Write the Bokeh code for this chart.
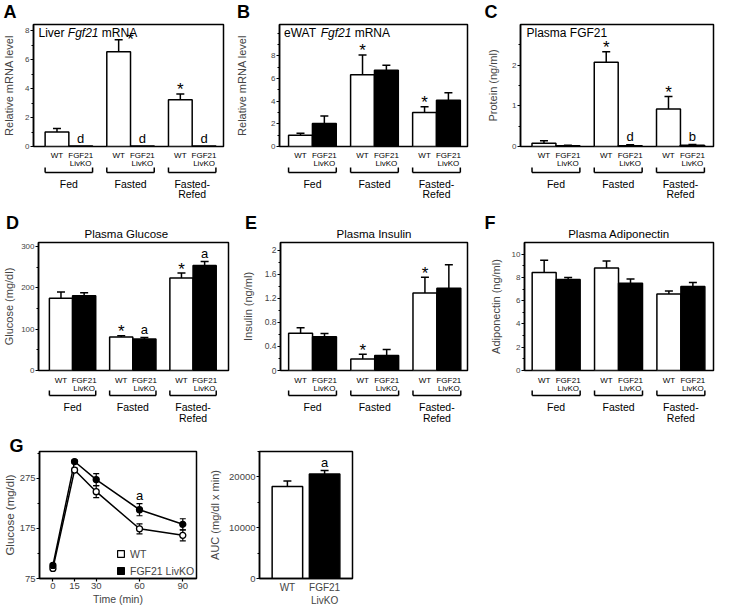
from bokeh.plotting import figure
from bokeh.layouts import row, column
from bokeh.models import Range1d, FixedTicker, Legend, LegendItem, Title
from bokeh.core.properties import value
from bokeh.embed import file_html
from bokeh.resources import INLINE

FONT = "Liberation Sans"

# ---------------- data ----------------
conditions = ["Fed", "Fasted", "Fasted-\nRefed"]
genotypes = ["WT", "FGF21\nLivKO"]

# A  Liver Fgf21 mRNA
liver_wt = [1.0, 6.55, 3.23]
liver_wt_err = [0.25, 0.82, 0.40]
liver_ko = [0.03, 0.03, 0.03]
liver_ko_err = [0.0, 0.0, 0.0]
# B  eWAT Fgf21 mRNA
ewat_wt = [1.0, 6.32, 3.0]
ewat_wt_err = [0.17, 1.75, 0.5]
ewat_ko = [2.03, 6.72, 4.08]
ewat_ko_err = [0.65, 0.45, 0.66]
# C  Plasma FGF21 (ng/ml)
fgf21_wt = [0.08, 2.07, 0.92]
fgf21_wt_err = [0.06, 0.26, 0.31]
fgf21_ko = [0.02, 0.02, 0.03]
fgf21_ko_err = [0.01, 0.02, 0.02]
# D  Plasma glucose (mg/dl)
glucose_wt = [175, 81, 224]
glucose_wt_err = [15, 3, 12]
glucose_ko = [181, 76, 254]
glucose_ko_err = [7, 4, 10]
# E  Plasma insulin (ng/ml)
insulin_wt = [0.62, 0.19, 1.29]
insulin_wt_err = [0.09, 0.08, 0.26]
insulin_ko = [0.56, 0.25, 1.37]
insulin_ko_err = [0.055, 0.10, 0.39]
# F  Plasma adiponectin (ng/ml)
adipo_wt = [8.43, 8.8, 6.58]
adipo_wt_err = [1.05, 0.6, 0.26]
adipo_ko = [7.82, 7.5, 7.22]
adipo_ko_err = [0.17, 0.36, 0.34]
# G  GTT
gtt_time = [0, 15, 30, 60, 90]
gtt_wt = [95, 291, 248, 174, 161]
gtt_wt_err = [3, 4, 12, 10, 11]
gtt_ko = [101, 308, 272, 212, 183]
gtt_ko_err = [3, 3, 12, 12, 11]
auc_vals = [18100, 20550]
auc_err = [1100, 700]

GAP = 2.6  # spacing between condition groups (bar units)


def px(s):
    return value(f"{s}px")


def txt(p, x, y, t, size, align="center", baseline="middle", style="normal",
        xo=0, yo=0):
    p.text(x=x, y=y, text=t, text_font=value(FONT), text_font_size=px(size),
           text_align=align, text_baseline=baseline, text_font_style=style,
           x_offset=xo, y_offset=yo, text_color="black")


def style_yaxis(ax, ticks, minor, label, tick_font, label_font, standoff,
                overrides=None):
    ax.ticker = FixedTicker(ticks=ticks, minor_ticks=minor)
    ax.axis_label = label
    ax.axis_label_text_font = FONT
    ax.axis_label_text_font_size = f"{label_font}px"
    ax.axis_label_text_font_style = "normal"
    ax.axis_label_standoff = standoff
    ax.major_label_text_font = FONT
    ax.major_label_text_font_size = f"{tick_font}px"
    ax.major_label_standoff = 1
    ax.major_tick_out = 3
    ax.major_tick_in = 0
    ax.minor_tick_out = 2
    ax.minor_tick_in = 0
    ax.axis_line_width = 1.5
    ax.major_tick_line_width = 1.2
    ax.minor_tick_line_width = 1.2
    if overrides:
        ax.major_label_overrides = overrides


def errbars(p, x, top, err, cap=8, width=1.5):
    xs = [a for a, e in zip(x, err) if e > 0]
    y0 = [t for t, e in zip(top, err) if e > 0]
    y1 = [t + e for t, e in zip(top, err) if e > 0]
    if not xs:
        return
    p.segment(x0=xs, y0=y0, x1=xs, y1=y1, line_color="black", line_width=width)
    p.scatter(x=xs, y=y1, marker="dash", size=cap, line_color="black",
              line_width=width)


def add_letter(p, t, xoff, standoff, valign):
    p.add_layout(Title(text=t, align="left", offset=xoff, standoff=standoff,
                       vertical_align=valign, text_font=FONT,
                       text_font_size="18px", text_font_style="bold",
                       text_color="black"), "above")


def bar_panel(c):
    W, H, L, R, T, Bm = c["W"], c["H"], c["L"], c["R"], c["T"], 5
    p = figure(width=W, height=H, x_range=Range1d(*c["xr"]),
               y_range=Range1d(*c["yr"]), x_axis_location=None,
               toolbar_location=None, output_backend="svg",
               min_border_left=L, min_border_right=R, min_border_top=T,
               min_border_bottom=Bm)
    p.outline_line_color = "black"
    p.outline_line_width = 1.5
    p.grid.grid_line_color = None
    style_yaxis(p.yaxis[0], c["ticks"], c["minor"], c["ylabel"], c["tf"], 11,
                c["so"], c.get("ov"))
    xw = [i * GAP for i in range(len(conditions))]
    xk = [x + 1 for x in xw]
    p.vbar(x=xw, top=c["wt"], bottom=0, width=1, fill_color="white",
           line_color="black", line_width=1.5)
    p.vbar(x=xk, top=c["ko"], bottom=0, width=1, fill_color="black",
           line_color="black", line_width=1.5)
    errbars(p, xw, c["wt"], c["wt_err"])
    errbars(p, xk, c["ko"], c["ko_err"])
    for series, i, t, dx, dy in c["ann"]:
        xs, vals, errs = (xw, c["wt"], c["wt_err"]) if series == "wt" else (xk, c["ko"], c["ko_err"])
        yv = vals[i] + errs[i]
        if t == "*":
            txt(p, [xs[i]], [yv], [t], 17, xo=dx, yo=-4 + dy)
        else:
            txt(p, [xs[i]], [yv], [t], 13, xo=dx, yo=-8 + dy)
    # title written inside the frame (row 1)
    x0, y1 = c["xr"][0], c["yr"][1]
    for piece, off, style in c["intitle"]:
        txt(p, [x0], [y1], [piece], 12, align="left", baseline="top",
            style=style, xo=off, yo=1)
    # title above the frame (row 2)
    if c.get("title"):
        p.add_layout(Title(text=c["title"], align=c.get("talign", "center"),
                           offset=c.get("toff", 0), standoff=5,
                           vertical_align="bottom", text_font=FONT,
                           text_font_size="11.5px", text_font_style="normal",
                           text_color="black"), "above")
    add_letter(p, c["letter"], c["lx"], c["ls"], c["lva"])

    # label strip below the bars
    Hs = c["Hs"]
    o = c["so_strip"]  # (genotype line1, line2, bracket, group line1, line2)
    s = figure(width=W, height=Hs, x_range=p.x_range, y_range=Range1d(Hs, 0),
               x_axis_location=None, y_axis_location=None,
               toolbar_location=None, output_backend="svg",
               min_border_left=L, min_border_right=R, min_border_top=0,
               min_border_bottom=0)
    s.outline_line_color = None
    s.grid.grid_line_color = None
    for k, line in enumerate(genotypes[0].split("\n")):
        txt(s, xw, [o[0] + (o[1] - o[0]) * k] * len(xw), [line] * len(xw), 8)
    for k, line in enumerate(genotypes[1].split("\n")):
        txt(s, xk, [o[0] + (o[1] - o[0]) * k] * len(xk), [line] * len(xk), 8)
    bl = [x - 0.5 for x in xw]
    br = [x + 1.5 for x in xw]
    s.segment(x0=bl, y0=[o[2]] * 3, x1=br, y1=[o[2]] * 3, line_color="black",
              line_width=1.5)
    s.segment(x0=bl + br, y0=[o[2] - 5] * 6, x1=bl + br, y1=[o[2]] * 6,
              line_color="black", line_width=1.5)
    for i, cond in enumerate(conditions):
        for k, line in enumerate(cond.split("\n")):
            txt(s, [xw[i] + 0.5], [o[3] + (o[4] - o[3]) * k], [line], 10.5)
    return column(p, s)


ROW1 = dict(H=151, T=24, Hs=57, so_strip=(4, 11.5, 21, 32, 42), lva="top", ls=0.6)
ROW2 = dict(H=167, T=34, Hs=48, so_strip=(5, 13, 20, 31, 42), lva="bottom", ls=-18)

panels = [
    dict(ROW1, letter="A", lx=-30, W=230, L=32, R=7,
         xr=(-0.99, 7.02), yr=(0, 8.43), ticks=[0, 2, 4, 6, 8],
         minor=[1, 3, 5, 7], ylabel="Relative mRNA level", tf=8, so=7,
         wt=liver_wt, wt_err=liver_wt_err, ko=liver_ko, ko_err=liver_ko_err,
         ann=[("wt", 1, "*", 12, 4), ("wt", 2, "*", 0, 0), ("ko", 0, "d", 0, 0),
              ("ko", 1, "d", 0, 0), ("ko", 2, "d", 0, 0)],
         intitle=[("Liver", 5, "normal"), ("Fgf21", 34.3, "italic"),
                  ("mRNA", 68.3, "normal")]),
    dict(ROW1, letter="B", lx=-42.6, W=240, L=49, R=3,
         xr=(-0.88, 7.0), yr=(0, 10.75), ticks=[0, 2, 4, 6, 8],
         minor=[1, 3, 5, 7, 9, 10], ylabel="Relative mRNA level", tf=8, so=20,
         wt=ewat_wt, wt_err=ewat_wt_err, ko=ewat_ko, ko_err=ewat_ko_err,
         ann=[("wt", 1, "*", 0, 0), ("wt", 2, "*", 0, 0)],
         intitle=[("eWAT", 4.5, "normal"), ("Fgf21", 41.2, "italic"),
                  ("mRNA", 75.2, "normal")]),
    dict(ROW1, letter="C", lx=-36, W=245, L=50, R=2,
         xr=(-0.98, 7.08), yr=(0, 3.0), ticks=[0, 1, 2], minor=[0.5, 1.5, 2.5],
         ylabel="Protein (ng/ml)", tf=8, so=10,
         wt=fgf21_wt, wt_err=fgf21_wt_err, ko=fgf21_ko, ko_err=fgf21_ko_err,
         ann=[("wt", 1, "*", 0, 0), ("wt", 2, "*", 0, 0), ("ko", 1, "d", 0, 0),
              ("ko", 2, "b", 0, 0)],
         intitle=[("Plasma FGF21", 6, "normal")]),
    dict(ROW2, letter="D", lx=-32.4, W=230, L=34, R=2,
         xr=(-0.97, 7.23), yr=(0, 310), ticks=[0, 100, 200, 300],
         minor=[50, 150, 250], ylabel="Glucose (mg/dl)", tf=8, so=3,
         wt=glucose_wt, wt_err=glucose_wt_err, ko=glucose_ko,
         ko_err=glucose_ko_err,
         ann=[("wt", 1, "*", 0, 0), ("ko", 1, "a", 0, 0), ("wt", 2, "*", 0, 0),
              ("ko", 2, "a", 0, 0)],
         intitle=[], title="Plasma Glucose", talign="left", toff=46),
    dict(ROW2, letter="E", lx=-35.5, W=240, L=50, R=3,
         xr=(-0.84, 6.98), yr=(0, 2.13), ticks=[0, 0.4, 0.8, 1.2, 1.6, 2.0],
         minor=[0.2, 0.6, 1.0, 1.4, 1.8], ylabel="Insulin (ng/ml)", tf=8.5,
         so=8, ov={0.0: "0"},
         wt=insulin_wt, wt_err=insulin_wt_err, ko=insulin_ko,
         ko_err=insulin_ko_err,
         ann=[("wt", 1, "*", 0, 0), ("wt", 2, "*", 0, 0)],
         intitle=[], title="Plasma Insulin"),
    dict(ROW2, letter="F", lx=-40, W=245, L=54, R=2,
         xr=(-0.82, 7.06), yr=(0, 11.0), ticks=[0, 2, 4, 6, 8, 10],
         minor=[1, 3, 5, 7, 9], ylabel="Adiponectin (ng/ml)", tf=8, so=7,
         wt=adipo_wt, wt_err=adipo_wt_err, ko=adipo_ko, ko_err=adipo_ko_err,
         ann=[], intitle=[], title="Plasma Adiponectin"),
]

cols = [bar_panel(c) for c in panels]

# ---------------- G: glucose tolerance ----------------
pG = figure(frame_width=157, frame_height=127, x_range=Range1d(-9.3, 99.5),
            y_range=Range1d(75, 328), toolbar_location=None,
            output_backend="svg", min_border_left=33, min_border_right=10,
            min_border_top=28, min_border_bottom=4)
pG.outline_line_color = "black"
pG.outline_line_width = 1.5
pG.grid.grid_line_color = None
style_yaxis(pG.yaxis[0], [75, 175, 275], [125, 225, 325], "Glucose (mg/dl)",
            9.5, 11.5, 1)
xa = pG.xaxis[0]
xa.ticker = FixedTicker(ticks=gtt_time, minor_ticks=[])
xa.axis_label = "Time (min)"
xa.axis_label_text_font = FONT
xa.axis_label_text_font_size = "10.5px"
xa.axis_label_text_font_style = "normal"
xa.axis_label_standoff = 1
xa.major_label_text_font = FONT
xa.major_label_text_font_size = "9.5px"
xa.major_label_standoff = 1
xa.major_tick_out = 3
xa.major_tick_in = 0
xa.axis_line_width = 1.5
xa.major_tick_line_width = 1.2

pG.line(gtt_time, gtt_wt, line_color="black", line_width=1.5)
pG.line(gtt_time, gtt_ko, line_color="black", line_width=1.5)
for vals, errs in ((gtt_wt, gtt_wt_err), (gtt_ko, gtt_ko_err)):
    lo = [v - e for v, e in zip(vals, errs)]
    hi = [v + e for v, e in zip(vals, errs)]
    pG.segment(x0=gtt_time, y0=lo, x1=gtt_time, y1=hi, line_color="black",
               line_width=1.2)
    pG.scatter(x=gtt_time, y=lo, marker="dash", size=6, line_color="black",
               line_width=1.2)
    pG.scatter(x=gtt_time, y=hi, marker="dash", size=6, line_color="black",
               line_width=1.2)
# square markers (used as legend keys) sit hidden under the circles
sq_w = pG.scatter(x=gtt_time, y=gtt_wt, marker="square", size=3,
                  fill_color="white", line_color="black", line_width=1.2)
sq_k = pG.scatter(x=gtt_time, y=gtt_ko, marker="square", size=3,
                  fill_color="black", line_color="black", line_width=1.2)
pG.scatter(x=gtt_time, y=gtt_wt, marker="circle", size=6, fill_color="white",
           line_color="black", line_width=1.3)
pG.scatter(x=gtt_time, y=gtt_ko, marker="circle", size=6, fill_color="black",
           line_color="black", line_width=1.3)
txt(pG, [gtt_time[3]], [gtt_ko[3] + gtt_ko_err[3]], ["a"], 13, yo=-8)
leg = Legend(items=[LegendItem(label="WT", renderers=[sq_w]),
                    LegendItem(label="FGF21 LivKO", renderers=[sq_k])],
             location=(73, -1), glyph_width=17, glyph_height=17,
             label_height=12, label_standoff=1, spacing=-1, padding=0,
             margin=0, label_text_font=FONT, label_text_font_size="10.5px",
             background_fill_alpha=0, border_line_color=None)
pG.add_layout(leg)
add_letter(pG, "G", -30, -13.4, "top")

# ---------------- AUC ----------------
auc_x = [0, 1]
pA = figure(frame_width=93, frame_height=127, x_range=Range1d(-0.75, 1.75),
            y_range=Range1d(0, 25000), toolbar_location=None,
            output_backend="svg", min_border_left=51, min_border_right=10,
            min_border_top=28, min_border_bottom=4)
pA.outline_line_color = "black"
pA.outline_line_width = 1.5
pA.grid.grid_line_color = None
style_yaxis(pA.yaxis[0], [0, 10000, 20000], [5000, 15000, 25000],
            "AUC (mg/dl x min)", 9.5, 11, 5)
xb = pA.xaxis[0]
xb.ticker = FixedTicker(ticks=auc_x, minor_ticks=[])
xb.major_label_overrides = {0: genotypes[0], 1: genotypes[1]}
xb.major_label_text_font = FONT
xb.major_label_text_font_size = "10px"
xb.major_label_standoff = 3
xb.major_tick_out = 0
xb.major_tick_in = 0
xb.axis_line_width = 1.5
pA.vbar(x=auc_x, top=auc_vals, bottom=0, width=0.82,
        fill_color=["white", "black"], line_color="black", line_width=1.5)
errbars(pA, auc_x, auc_vals, auc_err)
txt(pA, [auc_x[1]], [auc_vals[1] + auc_err[1]], ["a"], 13, yo=-8)

layout = column(row(*cols[:3]), row(*cols[3:]), row(pG, pA))

open("out.html", "w").write(file_html(layout, INLINE, title="FGF21 figure"))
